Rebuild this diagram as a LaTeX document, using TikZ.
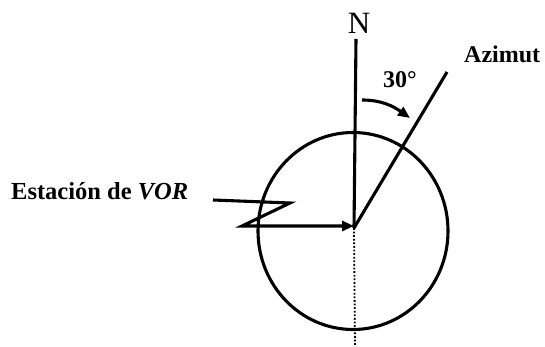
\documentclass[tikz,border=0pt]{standalone}
\usepackage{fontspec}
\setmainfont{Liberation Serif}
\usetikzlibrary{arrows.meta}
\begin{document}
\begin{tikzpicture}[x=1pt,y=1pt,
  thickline/.style={line width=3.1pt},
  tip/.style={-{Triangle[length=12pt,width=10pt]}},
  lbl/.style={inner sep=0pt}]
\useasboundingbox (0,0) rectangle (545,347);
\coordinate (C) at (354,119);
\coordinate (Ntop) at (356,308);
\coordinate (Az) at (447,275);
\coordinate (Z1) at (213,147);
\coordinate (Z2) at (290,144);
\coordinate (Z3) at (242,121);
\coordinate (Bot) at (355,0);
\coordinate (A1) at (362,247);
\coordinate (A2) at (410,229);
% circle
\draw[thickline] (353,116) ellipse [x radius=95, y radius=98.5];
% north line
\draw[thickline] (C) -- (Ntop);
% azimuth line
\draw[thickline] (C) -- (Az);
% dotted line below
\draw[line width=1.8pt, dash pattern=on 1.8pt off 1.8pt] (C) -- (Bot);
% zigzag VOR arrow
\draw[thickline, tip, line join=miter] (Z1) -- (Z2) -- (Z3) -- (C |- Z3);
% angle arrow
\draw[thickline, tip] (A1) to[out=0, in=145] (A2);
% labels
\node[lbl] (N) at (359,324) {\fontsize{31}{34}\selectfont N};
\node[lbl, anchor=west] (azl) at (464,293) {\fontsize{24}{28}\selectfont\bfseries Azimut};
\node[lbl] (deg) at (400,267) {\fontsize{24}{28}\selectfont\bfseries 30°};
\node[lbl, anchor=west] (vor) at (11,156) {\fontsize{24.5}{28}\selectfont\bfseries Estación de \textit{VOR}};
\end{tikzpicture}
\end{document}
